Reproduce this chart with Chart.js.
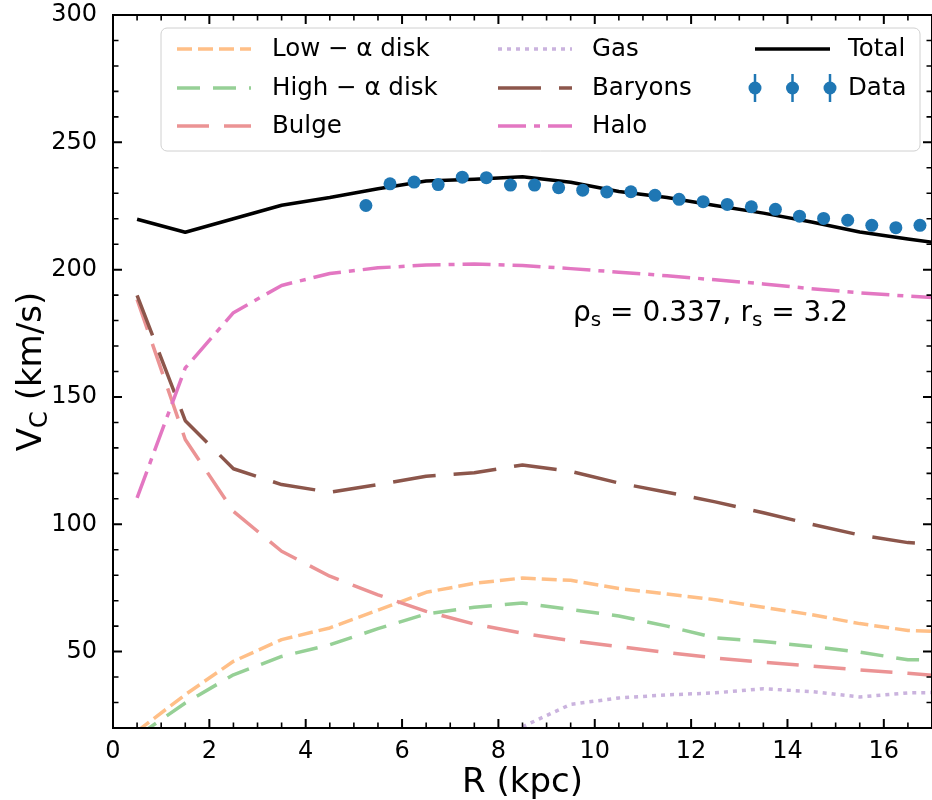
<!DOCTYPE html>
<html><head><meta charset="utf-8">
<script src="https://cdn.jsdelivr.net/npm/chart.js@4.4.1/dist/chart.umd.min.js"></script>
<style>html,body{margin:0;padding:0;background:#fff;overflow:hidden}#c{display:block}</style>
</head><body><canvas id="c" width="932" height="800"></canvas>
<script>
// ---- data ----
const modelR    = [0.5,1.5,2.5,3.5,4.5,5.5,6.5,7.5,8.5,9.5,10.5,11.5,12.5,13.5,14.5,15.5,16.5,17.5];
const lowAlpha  = [18.7,33.1,46.2,54.7,59.3,66.3,73.3,76.8,78.9,78.0,74.8,72.6,70.4,67.4,64.5,61.0,58.3,57.7];
const highAlpha = [16.7,29.8,40.9,48.1,52.7,59.0,64.8,67.4,69.1,66.5,64.0,60.0,55.4,54.0,52.0,49.8,46.8,46.6];
const bulge     = [188.3,133.3,105.1,89.4,79.6,72.3,65.8,60.8,57.2,54.3,52.0,49.6,47.5,45.8,44.3,42.8,41.5,40.0];
const gas       = [null,null,null,null,null,null,null,null,20.5,29.3,31.8,33.0,33.8,35.4,34.3,32.2,33.8,34.0];
const baryons   = [189.9,140.7,121.8,115.6,112.6,115.6,118.9,120.2,123.3,120.8,116.2,112.6,108.8,104.5,100.0,95.8,92.8,91.8];
const halo      = [110.4,161.4,183.1,193.8,198.5,200.7,201.8,202.2,201.6,200.4,199.0,197.6,196.0,194.4,192.5,190.9,189.6,188.5];
const total     = [219.8,214.7,220.0,225.3,228.3,231.8,234.8,235.5,236.5,234.3,230.7,228.3,225.2,222.2,218.7,214.8,212.0,209.5];
const dataR     = [5.25,5.75,6.25,6.75,7.25,7.75,8.25,8.75,9.25,9.75,10.25,10.75,11.25,11.75,12.25,12.75,13.25,13.75,14.25,14.75,15.25,15.75,16.25,16.75];
const dataV     = [225.2,233.7,234.4,233.4,236.3,236.1,233.2,233.2,232.2,231.2,230.5,230.6,229.2,227.6,226.7,225.6,224.7,223.7,221.0,220.1,219.4,217.4,216.5,217.4];
const xTicks    = [0,2,4,6,8,10,12,14,16];
const yTicks    = [50,100,150,200,250,300];
const annotation = {rho:'0.337', rs:'3.2'};

const FONT = '"DejaVu Sans", sans-serif';
const pts = (xs, ys) => xs.map((x,i)=>({x, y: ys[i]}));
function lineDs(label, arr, color, dash, order){
  return {label, data: pts(modelR, arr), borderColor: color, backgroundColor: color, borderDash: dash,
    borderWidth: 3.5, pointRadius: 0, tension: 0, fill: false, borderCapStyle: 'butt',
    borderJoinStyle: 'round', clip: 0, order, spanGaps: false};
}
const datasets = [
  lineDs('Low − α disk', lowAlpha, '#ffbf87', [15,6], 8),
  lineDs('High − α disk', highAlpha, '#96d096', [23,13], 7),
  lineDs('Bulge', bulge, '#eb9394', [32,15], 6),
  lineDs('Gas', gas, '#cab3de', [4,5], 5),
  lineDs('Baryons', baryons, '#8c564b', [43,18], 4),
  lineDs('Halo', halo, '#e377c2', [28,8,6,8], 3),
  lineDs('Total', total, '#000000', [], 1),
  {label:'Data', data: pts(dataR, dataV), showLine:false, pointRadius:6.5, pointHoverRadius:6.5,
   pointBackgroundColor:'#1f77b4', pointBorderWidth:0, borderColor:'#1f77b4', order:0, clip:0}
];

const frame = {
  id:'frame',
  afterDatasetsDraw(chart){
    const {ctx, chartArea:a, scales:{x, y}} = chart;
    ctx.save();
    ctx.strokeStyle = '#000';
    const tick = (isMajor) => { ctx.lineWidth = isMajor ? 2 : 1.6; return isMajor ? 9 : 5.5; };
    for (let v = 0; v <= 17.0001; v += 0.5){
      const major = xTicks.includes(Math.round(v*10)/10);
      const L = tick(major); const px = x.getPixelForValue(v);
      ctx.beginPath(); ctx.moveTo(px, a.bottom); ctx.lineTo(px, a.bottom - L);
      ctx.moveTo(px, a.top); ctx.lineTo(px, a.top + L); ctx.stroke();
    }
    for (let v = 20; v <= 300; v += 10){
      const major = yTicks.includes(v);
      const L = tick(major); const py = y.getPixelForValue(v);
      ctx.beginPath(); ctx.moveTo(a.left, py); ctx.lineTo(a.left + L, py);
      ctx.moveTo(a.right, py); ctx.lineTo(a.right - L, py); ctx.stroke();
    }
    ctx.lineWidth = 2;
    ctx.strokeRect(a.left, a.top, a.right - a.left, a.bottom - a.top);
    ctx.restore();
  },
  afterDraw(chart){
    const {ctx, chartArea:a} = chart;
    ctx.save();
    ctx.fillStyle = '#000';
    ctx.font = '34px ' + FONT; ctx.textAlign = 'center'; ctx.textBaseline = 'alphabetic';
    ctx.fillText('R (kpc)', (a.left + a.right)/2, 792);
    ctx.translate(41, (a.top + a.bottom)/2); ctx.rotate(-Math.PI/2);
    ctx.textAlign = 'left';
    ctx.font = '34px ' + FONT; const wV = ctx.measureText('V').width;
    ctx.font = '24px ' + FONT; const wC = ctx.measureText('C').width;
    ctx.font = '34px ' + FONT; const wR = ctx.measureText(' (km/s)').width;
    let x0 = -(wV + wC + wR)/2;
    ctx.fillText('V', x0, 0); x0 += wV;
    ctx.font = '24px ' + FONT; ctx.fillText('C', x0, 6); x0 += wC;
    ctx.font = '34px ' + FONT; ctx.fillText(' (km/s)', x0, 0);
    ctx.restore();

    ctx.save(); ctx.fillStyle = '#000'; ctx.textBaseline = 'alphabetic'; ctx.textAlign = 'left';
    const big = '28px ' + FONT, small = '20px ' + FONT;
    const parts = [['ρ', big, 0], ['s', small, 5], [' = ' + annotation.rho + ', r', big, 0], ['s', small, 5], [' = ' + annotation.rs, big, 0]];
    let ax = 573;
    for (const [t, f, dy] of parts){ ctx.font = f; ctx.fillText(t, ax, 321 + dy); ax += ctx.measureText(t).width; }
    ctx.restore();

    ctx.save();
    const bx = 161, by = 28, bw = 759, bh = 123, r = 6;
    ctx.beginPath();
    ctx.moveTo(bx + r, by); ctx.lineTo(bx + bw - r, by); ctx.arcTo(bx + bw, by, bx + bw, by + r, r);
    ctx.lineTo(bx + bw, by + bh - r); ctx.arcTo(bx + bw, by + bh, bx + bw - r, by + bh, r);
    ctx.lineTo(bx + r, by + bh); ctx.arcTo(bx, by + bh, bx, by + bh - r, r);
    ctx.lineTo(bx, by + r); ctx.arcTo(bx, by, bx + r, by, r); ctx.closePath();
    ctx.fillStyle = 'rgba(255,255,255,0.8)'; ctx.fill();
    ctx.strokeStyle = '#d0d0d0'; ctx.lineWidth = 1; ctx.stroke();
    const cols = [[177, 251, 272], [498, 572, 592], [755, 830, 848]];
    const rows = [49, 88, 126];
    const items = [[0,0,0],[1,0,1],[2,0,2],[3,1,0],[4,1,1],[5,1,2],[6,2,0],[7,2,1]];
    ctx.font = '24.5px ' + FONT; ctx.textBaseline = 'middle'; ctx.textAlign = 'left';
    for (const [i, c, rr] of items){
      const d = chart.data.datasets[i]; const [x1, x2, tx] = cols[c]; const yy = rows[rr];
      if (d.label === 'Data'){
        ctx.strokeStyle = d.pointBackgroundColor; ctx.fillStyle = d.pointBackgroundColor; ctx.lineWidth = 2.5; ctx.setLineDash([]);
        for (const px of [x1, (x1 + x2)/2, x2]){
          ctx.beginPath(); ctx.moveTo(px, yy - 14); ctx.lineTo(px, yy + 14); ctx.stroke();
          ctx.beginPath(); ctx.arc(px, yy, 6.5, 0, Math.PI*2); ctx.fill();
        }
      } else {
        ctx.strokeStyle = d.borderColor; ctx.lineWidth = d.borderWidth; ctx.setLineDash(d.borderDash || []);
        ctx.lineCap = 'butt';
        ctx.beginPath(); ctx.moveTo(x1, yy); ctx.lineTo(x2, yy); ctx.stroke();
      }
      ctx.setLineDash([]); ctx.fillStyle = '#000';
      ctx.fillText(d.label, tx, yy + 1);
    }
    ctx.restore();
  }
};

new Chart(document.getElementById('c'), {
  type: 'line',
  data: { datasets },
  options: {
    responsive: false, animation: false, devicePixelRatio: 1,
    layout: { autoPadding: false, padding: { top: 15, right: 0, left: 0, bottom: 0 } },
    plugins: { legend: { display: false }, tooltip: { enabled: false } },
    scales: {
      x: { type: 'linear', min: 0, max: 17,
        afterBuildTicks: s => { s.ticks = xTicks.map(v => ({value: v})); },
        afterFit: s => { s.height = 72; s.paddingLeft = 0; s.paddingRight = 0; },
        ticks: { font: { family: FONT, size: 24 }, color: '#000', padding: 1, maxRotation: 0, autoSkip: false, callback: v => String(v) },
        grid: { display: false }, border: { display: false } },
      y: { type: 'linear', min: 20, max: 300,
        afterBuildTicks: s => { s.ticks = yTicks.map(v => ({value: v})); },
        afterFit: s => { s.width = 113; s.paddingTop = 0; s.paddingBottom = 0; },
        ticks: { font: { family: FONT, size: 24 }, color: '#000', padding: 8, autoSkip: false, callback: v => String(v) },
        grid: { display: false }, border: { display: false } }
    }
  },
  plugins: [frame]
});
</script></body></html>
